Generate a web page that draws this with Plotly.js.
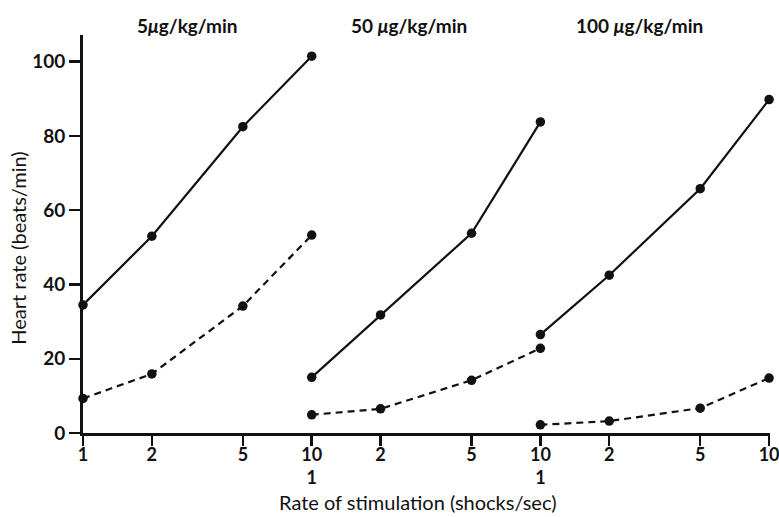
<!DOCTYPE html>
<html>
<head>
<meta charset="utf-8">
<script src="https://cdn.plot.ly/plotly-3.0.1.min.js"></script>
<style>html,body{margin:0;padding:0;background:#fff}#chart{width:779px;height:517px}</style>
</head>
<body>
<div id="chart"></div>
<script>
// Rates of stimulation (shocks/sec) within each panel
var rates = [1, 2, 5, 10];
// Panel doses
var doses = ['5', '50', '100'];
var doseTitles = ['5<i>μ</i>g/kg/min', '50 <i>μ</i>g/kg/min', '100 <i>μ</i>g/kg/min'];
// Heart rate increases (beats/min), solid series
var solid5 = [34.5, 53, 82.5, 101.5];
var solid50 = [15, 31.8, 53.8, 83.8];
var solid100 = [26.5, 42.5, 65.8, 89.8];
// Heart rate increases (beats/min), dashed series
var dashed5 = [9.3, 15.9, 34.2, 53.3];
var dashed50 = [4.9, 6.5, 14.2, 22.8];
var dashed100 = [2.2, 3.2, 6.7, 14.8];
// Tick labels
var xTickText = ['1', '2', '5', '10<br>1', '2', '5', '10<br>1', '2', '5', '10'];
var yTicks = [0, 20, 40, 60, 80, 100];
var xTitle = 'Rate of stimulation (shocks/sec)';
var yTitle = 'Heart rate (beats/min)';

var solidSets = [solid5, solid50, solid100];
var dashedSets = [dashed5, dashed50, dashed100];

// each panel occupies its own decade on a shared log axis
function panelX(p) { return rates.map(function (r) { return r * Math.pow(10, p); }); }

var traces = [];
for (var p = 0; p < 3; p++) {
  traces.push({
    x: panelX(p), y: solidSets[p], type: 'scatter', mode: 'lines+markers',
    line: {color: '#111', width: 2.2}, marker: {color: '#111', size: 9.5},
    cliponaxis: false, showlegend: false, name: doses[p] + ' solid'
  });
  traces.push({
    x: panelX(p), y: dashedSets[p], type: 'scatter', mode: 'lines+markers',
    line: {color: '#111', width: 2.2, dash: '7px,5px'}, marker: {color: '#111', size: 9.5},
    cliponaxis: false, showlegend: false, name: doses[p] + ' dashed'
  });
}

var tickVals = [];
for (var p2 = 0; p2 < 3; p2++) {
  rates.forEach(function (r, i) {
    if (p2 > 0 && i === 0) return;
    tickVals.push(r * Math.pow(10, p2));
  });
}

var annPos = [0.152, 0.475, 0.81];
var annotations = doseTitles.map(function (t, i) {
  return {
    text: t, xref: 'paper', yref: 'paper', x: annPos[i], y: 1.025,
    xanchor: 'center', yanchor: 'middle', showarrow: false,
    font: {family: 'Lato, sans-serif', size: 19, color: '#111', weight: 'bold'}
  };
});
annotations.push({
  text: xTitle, xref: 'paper', yref: 'paper', x: 0.487, y: -0.173,
  xanchor: 'center', yanchor: 'middle', showarrow: false,
  font: {family: 'Lato, sans-serif', size: 20, color: '#111'}
});
annotations.push({
  text: yTitle, xref: 'paper', yref: 'paper', x: -0.095, y: 0.465,
  xanchor: 'center', yanchor: 'middle', showarrow: false, textangle: -90,
  font: {family: 'Lato, sans-serif', size: 20, color: '#111'}
});

var layout = {
  width: 779, height: 517,
  margin: {l: 83, r: 9, t: 35, b: 84},
  paper_bgcolor: '#fff', plot_bgcolor: '#fff',
  font: {family: 'Lato, sans-serif', color: '#111'},
  xaxis: {
    type: 'log', range: [0, 3.004],
    tickmode: 'array', tickvals: tickVals, ticktext: xTickText,
    ticklabeloverflow: 'allow', ticklabelstandoff: -7,
    ticks: 'outside', ticklen: 10, tickwidth: 2.5, tickcolor: '#111',
    showline: true, linewidth: 3, linecolor: '#111',
    showgrid: false, zeroline: false,
    tickfont: {family: 'Lato, sans-serif', size: 18, color: '#111', weight: 'bold'}
  },
  yaxis: {
    range: [0, 107.2],
    tickmode: 'array', tickvals: yTicks,
    ticks: 'outside', ticklen: 11, tickwidth: 2.5, tickcolor: '#111',
    showline: true, linewidth: 3, linecolor: '#111',
    showgrid: false, zeroline: false,
    tickfont: {family: 'Lato, sans-serif', size: 19, color: '#111', weight: 'bold'}
  },
  annotations: annotations
};

Plotly.newPlot('chart', traces, layout, {staticPlot: true, displayModeBar: false});
</script>
</body>
</html>
